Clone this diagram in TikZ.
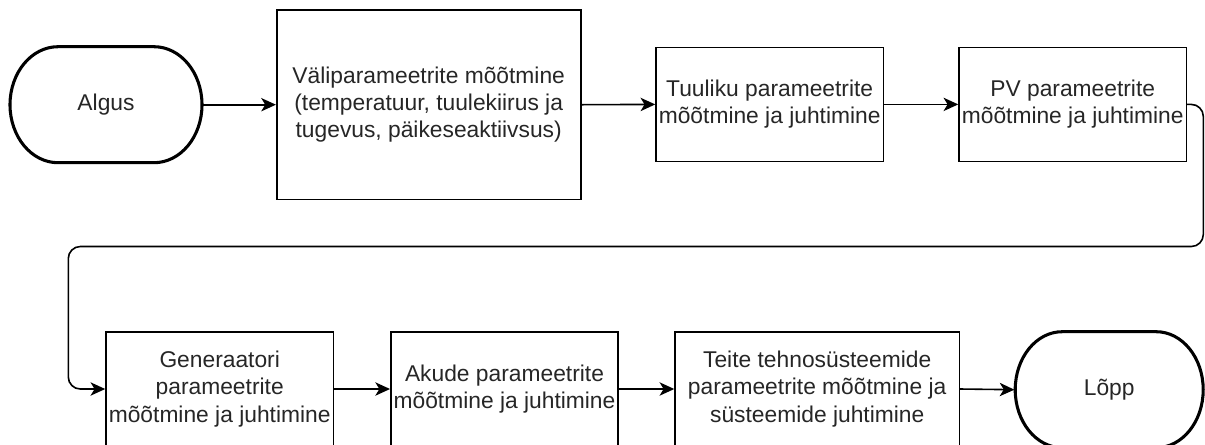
\documentclass[tikz,border=0pt]{standalone}
\usepackage{fontspec}
\setmainfont{Liberation Sans}
\usetikzlibrary{arrows.meta}

\tikzset{every picture/.style={line width=1.2pt}}
\tikzset{
  flowbox/.style={draw, line width=1.2pt, align=center, inner sep=2pt, text=black!85, font=\fontsize{17.1}{20.5}\selectfont},
  termtext/.style={align=center, inner sep=0pt, minimum width=144pt, minimum height=87pt, text=black!85, font=\fontsize{17.1}{20.5}\selectfont},
  terminal/.style={line width=2.3pt},
  flow/.style={line width=1.2pt, -{Stealth[length=11pt,width=10pt,inset=3pt]}}
}

\begin{document}
\begin{tikzpicture}[x=0.75pt,y=0.75pt,yscale=-1,xscale=1]
\useasboundingbox (0,0) rectangle (1205,444);
\clip (0,0) rectangle (1205,444);

%Shape: Terminator [Algus]
\draw [terminal] (58,46.7) -- (154,46.7) arc [start angle=-90, end angle=90, x radius=48, y radius=58] -- (58,162.7) arc [start angle=90, end angle=270, x radius=48, y radius=58] -- cycle ;
% Text Node
\node [termtext] (algus) at (106,104.7) {Algus};

%Shape: Rectangle [Valiparameetrid]
\node [flowbox, minimum width=228pt, minimum height=142pt] (vali) at (428.7,104.7) {Väliparameetrite mõõtmine\\(temperatuur, tuulekiirus ja\\tugevus, päikeseaktiivsus)};
%Shape: Rectangle [Tuulik]
\node [flowbox, minimum width=170.5pt, minimum height=85.5pt] (tuulik) at (769.7,104.4) {Tuuliku parameetrite\\mõõtmine ja juhtimine};
%Shape: Rectangle [PV]
\node [flowbox, minimum width=170.5pt, minimum height=85.5pt] (pv) at (1072.7,104.4) {PV parameetrite\\mõõtmine ja juhtimine};

%Shape: Rectangle [Generaator]
\node [flowbox, minimum width=170.5pt, minimum height=85.5pt] (gen) at (219.7,389) {Generaatori\\parameetrite\\mõõtmine ja juhtimine};
%Shape: Rectangle [Akud]
\node [flowbox, minimum width=170.5pt, minimum height=85.5pt] (akud) at (504.5,389) {Akude parameetrite\\mõõtmine ja juhtimine};
%Shape: Rectangle [Tehnosysteemid]
\node [flowbox, minimum width=213.2pt, minimum height=85.5pt] (teite) at (817.2,389) {Teite tehnosüsteemide\\parameetrite mõõtmine ja\\süsteemide juhtimine};

%Shape: Terminator [Lopp]
\draw [terminal] (1062.2,331.7) -- (1156.2,331.7) arc [start angle=-90, end angle=90, x radius=47, y radius=58] -- (1062.2,447.7) arc [start angle=90, end angle=270, x radius=47, y radius=58] -- cycle ;
% Text Node
\node [termtext, minimum width=141pt] (lopp) at (1109.2,389.7) {Lõpp};

%Straight Lines
\draw [flow] (algus.east) -- (vali.west) ;
\draw [flow] (vali.east) -- (tuulik.west) ;
\draw [flow] (tuulik.east) -- (pv.west) ;
%Loop to second row
\coordinate (turnA) at (1203.3,104.4) ;
\coordinate (turnB) at (68.3,246.5) ;
\draw [flow, rounded corners=9pt] (pv.east) -- (turnA) |- (turnB) |- (gen.west) ;
%Straight Lines
\draw [flow] (gen.east) -- (akud.west) ;
\draw [flow] (akud.east) -- (teite.west) ;
\draw [flow] (teite.east) -- (lopp.west) ;

\end{tikzpicture}
\end{document}
